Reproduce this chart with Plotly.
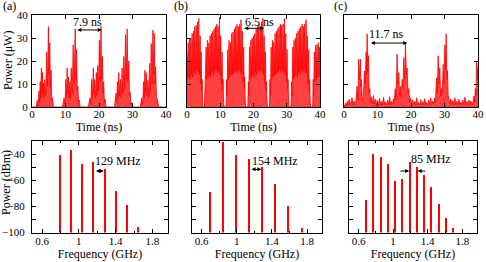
import plotly.graph_objects as go

# ---------------- data ----------------
# (a) time trace, 7.9 ns pulse period
time_a = [0, 1.2, 1.6, 1.85, 2.1, 2.25, 2.45, 2.6, 2.8, 2.95, 3.1, 3.25, 3.4, 3.6, 3.8, 4.1, 4.4, 4.65, 4.9, 5.1, 5.3, 5.5, 5.7, 5.9, 6.1, 6.4,
          9.1, 9.6, 9.85, 10.1, 10.3, 10.5, 10.7, 10.9, 11.1, 11.3, 11.5, 11.7, 12.0, 12.3, 12.6, 12.9, 13.1, 13.3, 13.5, 13.7, 13.9, 14.1, 14.4,
          16.8, 17.3, 17.55, 17.8, 18.05, 18.3, 18.5, 18.7, 18.95, 19.2, 19.4, 19.6, 19.85, 20.1, 20.35, 20.6, 20.8, 21.0, 21.2, 21.4, 21.6, 21.8, 22.1,
          24.6, 25.1, 25.3, 25.5, 25.7, 25.9, 26.15, 26.4, 26.65, 26.9, 27.15, 27.4, 27.65, 27.9, 28.15, 28.4, 28.65, 28.9, 29.1, 29.3, 29.5, 29.7, 30.0,
          32.3, 32.8, 33.05, 33.3, 33.5, 33.7, 33.9, 34.1, 34.35, 34.6, 34.85, 35.1, 35.35, 35.6, 35.85, 36.1, 36.3, 36.5, 36.7, 36.9, 37.15, 37.4, 37.8, 40]
power_a = [0, 0, 3, 0.5, 7, 2, 11, 4, 17, 6, 15, 5, 10.5, 4, 12, 5, 24, 9, 35, 14, 28, 9, 16, 3, 4, 0,
           0, 4, 1, 12, 4, 17, 6, 13, 4, 11, 4, 17, 6, 27, 10, 34, 12, 25, 7, 9, 2, 3, 0,
           0, 4, 1, 12, 4, 17, 6, 12, 4, 15, 5, 18, 7, 29, 11, 35, 12, 22, 6, 11, 2, 3.5, 0,
           0, 6, 2, 11, 4, 15, 5, 12, 4, 17, 6, 22, 8, 31.5, 12, 34, 11, 20, 5, 6.5, 1, 2, 0,
           0, 4, 1, 11, 4, 16, 6, 15, 5, 11.6, 4, 19, 7, 27.6, 10, 33.5, 14, 32, 10, 17.5, 4, 3.6, 0, 0]

# (b) time trace, 6.5 ns pulse period
time_b = [0.0, 0.15, 0.35, 0.55, 0.75, 0.95, 1.15, 1.35, 1.55, 1.75, 1.95, 2.15, 2.35, 2.55, 2.75, 2.95, 3.15, 3.35, 3.55, 3.75, 3.95, 4.1, 4.25, 4.4, 4.55, 4.7, 4.85,
          5.25, 5.4, 5.55, 5.75, 5.95, 6.15, 6.35, 6.55, 6.75, 6.95, 7.15, 7.35, 7.55, 7.75, 7.95, 8.15, 8.35, 8.55, 8.75, 8.95, 9.15, 9.35, 9.55, 9.75, 9.95, 10.15, 10.35, 10.55, 10.7, 10.85, 11.0, 11.15,
          11.75, 11.9, 12.05, 12.25, 12.45, 12.65, 12.85, 13.05, 13.25, 13.45, 13.65, 13.85, 14.05, 14.25, 14.45, 14.65, 14.85, 15.05, 15.25, 15.45, 15.65, 15.85, 16.05, 16.25, 16.45, 16.65, 16.85, 17.05, 17.2, 17.35, 17.5, 17.65,
          18.3, 18.45, 18.6, 18.8, 19.0, 19.2, 19.4, 19.6, 19.8, 20.0, 20.2, 20.4, 20.6, 20.8, 21.0, 21.2, 21.4, 21.6, 21.8, 22.0, 22.2, 22.4, 22.6, 22.8, 23.0, 23.2, 23.4, 23.6, 23.75, 23.9, 24.05, 24.2,
          24.8, 24.95, 25.1, 25.3, 25.5, 25.7, 25.9, 26.1, 26.3, 26.5, 26.7, 26.9, 27.1, 27.3, 27.5, 27.7, 27.9, 28.1, 28.3, 28.5, 28.7, 28.9, 29.1, 29.3, 29.5, 29.7, 29.9, 30.1, 30.25, 30.4, 30.55, 30.7,
          31.3, 31.45, 31.6, 31.8, 32.0, 32.2, 32.4, 32.6, 32.8, 33.0, 33.2, 33.4, 33.6, 33.8, 34.0, 34.2, 34.4, 34.6, 34.8, 35.0, 35.2, 35.4, 35.6, 35.8, 36.0, 36.2, 36.4, 36.6, 36.75, 36.9, 37.05, 37.2,
          37.8, 37.95, 38.1, 38.3, 38.5, 38.7, 38.9, 39.1, 39.3, 39.5, 39.7, 39.9, 40.0]
power_b = [24, 12, 28, 13, 30, 12, 30, 14, 32, 13, 33, 15, 35, 14, 35.5, 16, 37, 15, 38.5, 14, 31, 10, 24, 7, 12, 2, 0,
           0, 10, 5, 26, 12, 29, 13, 28, 14, 31, 13, 32, 15, 33, 14, 34, 16, 35, 15, 36, 16, 35, 15, 39, 14, 31, 10, 24, 7, 12, 2, 0,
           0, 12, 5, 25, 12, 29, 13, 28, 14, 32, 14, 32.6, 15, 34, 15, 35, 16, 36, 15, 35, 16, 36, 15, 38, 14, 33, 11, 26, 8, 13, 3, 0,
           0, 11, 5, 26, 12, 29, 13, 30, 14, 31, 13, 32, 15, 34, 14, 35, 16, 36, 15, 35, 16, 37, 15, 38.5, 14, 31, 10, 24, 7, 11, 3, 0,
           0, 12, 5, 26, 12, 29, 13, 28, 14, 32, 14, 33, 15, 34, 15, 35, 16, 36, 15, 35.5, 16, 36, 15, 38.5, 14, 32, 11, 25, 8, 12, 3, 0,
           0, 11, 5, 26, 12, 29, 13, 30, 14, 32, 13, 33, 15, 34, 14, 35, 16, 36, 15, 35, 16, 36, 15, 38, 14, 31, 10, 25, 7, 12, 2, 0,
           0, 12, 5, 24, 11, 27, 12, 27, 13, 28, 13, 26, 20]

# (c) time trace, 11.7 ns pulse period
time_c = [0.0, 0.3, 0.5, 0.8, 1.0, 1.3, 1.5, 1.8, 2.1, 2.4, 2.7, 3.0, 3.3, 3.6,
          3.9, 4.15, 4.4, 4.65, 4.9, 5.05, 5.2, 5.45, 5.7, 5.9, 6.1, 6.35, 6.6, 6.75, 6.9, 7.1, 7.3, 7.5, 7.7, 7.9,
          8.2, 8.5, 8.8, 9.1, 9.4, 9.7, 10.0, 10.3, 10.6, 10.9, 11.2, 11.5, 11.8, 12.1, 12.4, 12.7, 13.0, 13.3, 13.6, 13.9, 14.2, 14.5, 14.8,
          15.0, 15.3, 15.55, 15.85, 16.1, 16.35, 16.6, 16.85, 17.1, 17.35, 17.6, 17.85, 18.1, 18.35, 18.6, 18.85, 19.1, 19.35, 19.6,
          19.9, 20.2, 20.5, 20.8, 21.1, 21.4, 21.7, 22.0, 22.3, 22.6, 22.9, 23.2, 23.5, 23.8, 24.1, 24.4, 24.7, 25.0, 25.3, 25.6, 25.9, 26.2, 26.5, 26.8,
          27.05, 27.3, 27.6, 27.85, 28.1, 28.35, 28.6, 28.85, 29.1, 29.35, 29.6, 29.85, 30.1, 30.3, 30.5, 30.7, 30.9, 31.1, 31.3,
          31.6, 31.9, 32.2, 32.5, 32.8, 33.1, 33.4, 33.7, 34.0, 34.3, 34.6, 34.9, 35.2, 35.5, 35.8, 36.1, 36.4, 36.7, 37.0, 37.3, 37.6, 37.9, 38.2, 38.5,
          38.8, 39.0, 39.2, 39.4, 39.6, 39.8, 40.0]
power_c = [1, 0.4, 1.8, 0.6, 2.5, 0.8, 3.4, 1, 2.2, 4, 1, 2.6, 0.8, 3,
           9, 3, 20.8, 12, 20.8, 9, 12, 3, 4, 8, 15.7, 10, 24, 14, 31.8, 15, 22.4, 6, 8, 2,
           4.5, 1.5, 5, 1.2, 3.5, 0.8, 2.8, 1, 3.8, 0.8, 2.5, 1, 4.2, 1.2, 2.2, 0.6, 3, 1, 4.5, 1, 2.5, 1.2, 3.5,
           2, 8, 3, 23, 10, 15, 5, 9, 4, 12, 8, 21.5, 12, 27.8, 14, 17, 6, 8, 2,
           4, 1, 3, 0.8, 2.5, 1, 4, 1, 2, 0.6, 3.2, 1, 2.4, 0.8, 3.6, 1, 2, 0.8, 3, 1.2, 4, 1, 2.5, 1.5,
           4, 2, 12.7, 6, 22.3, 10, 17, 5, 8, 6, 18.6, 10, 27, 16, 31.8, 12, 15.8, 5, 4,
           1.5, 3.5, 1, 2.8, 0.8, 4, 1.2, 2.5, 0.6, 3.4, 1, 2.2, 0.8, 3, 1, 4.2, 1.2, 2.4, 0.8, 3, 1, 2.6, 1, 2,
           4.8, 2, 8, 5, 20, 12, 18]

assert len(time_a) == len(power_a)
assert len(time_b) == len(power_b)
assert len(time_c) == len(power_c)

# RF spectra (frequency in GHz, power in dBm)
freq_a = [0.793, 0.917, 1.038, 1.158, 1.285, 1.402, 1.522, 1.643]
level_a = [-40.5, -37, -47.5, -45.8, -51.3, -68.5, -78.6, -96]
freq_b = [0.695, 0.844, 0.99, 1.14, 1.29, 1.44, 1.59, 1.74]
level_b = [-69.3, -30.8, -40.8, -44, -49.7, -63, -80, -96.7]
freq_c = [0.692, 0.775, 0.859, 0.944, 1.024, 1.108, 1.192, 1.277, 1.36, 1.44, 1.528, 1.612, 1.696]
level_c = [-75.5, -40, -42, -47.7, -60.7, -59.1, -46.1, -49.7, -56, -65.5, -78.3, -89, -96.6]

time_ticks = [0, 10, 20, 30, 40]
power_ticks = [0, 10, 20, 30, 40]
freq_tickvals = [0.6, 1.0, 1.4, 1.8]
freq_ticktext = ["0.6", "1", "1.4", "1.8"]
dbm_ticks = [-100, -80, -60, -40]

# ---------------- layout ----------------
W, H = 486, 262
FONT = "Liberation Serif, Times New Roman, Times, DejaVu Serif, serif"
RED = "#ff0000"


def fx(p):
    return p / W


def fy(p):
    return 1 - p / H


top_x = [(32, 166), (187, 320), (344, 478)]
bot_x = [(32, 168), (192, 322), (349, 477)]
top_y = (15, 107)
bot_y = (141, 232.5)

fig = go.Figure()

for i, (t, p) in enumerate([(time_a, power_a), (time_b, power_b), (time_c, power_c)]):
    n = i + 1
    fig.add_trace(go.Scatter(x=t, y=p, mode="lines", line=dict(color=RED, width=0.8),
                             fill="tozeroy", fillcolor="rgba(255,0,0,0.75)",
                             xaxis=f"x{n}", yaxis=f"y{n}", showlegend=False, hoverinfo="skip"))

for i, (f, l) in enumerate([(freq_a, level_a), (freq_b, level_b), (freq_c, level_c)]):
    n = i + 4
    fig.add_trace(go.Bar(x=f, y=[v + 100 for v in l], base=-100, width=0.016,
                         marker=dict(color=RED, line=dict(width=0)),
                         xaxis=f"x{n}", yaxis=f"y{n}", showlegend=False, hoverinfo="skip"))

axis_common = dict(showline=True, linecolor="black", linewidth=1, mirror="ticks",
                   ticks="inside", ticklen=4, tickcolor="black", showgrid=False, zeroline=False,
                   tickfont=dict(family=FONT, size=11, color="black"), automargin=False)

layout = dict(width=W, height=H, margin=dict(l=0, r=0, t=0, b=0),
              paper_bgcolor="white", plot_bgcolor="white", bargap=0,
              font=dict(family=FONT, size=12, color="black"))

for i in range(3):
    n = i + 1
    layout[f"xaxis{n}"] = dict(axis_common, domain=[fx(top_x[i][0]), fx(top_x[i][1])], range=[0, 40],
                               tickvals=time_ticks, anchor=f"y{n}", ticklabelstandoff=-3,
                               title=dict(text="Time (ns)", standoff=0, font=dict(family=FONT, size=12)))
    layout[f"yaxis{n}"] = dict(axis_common, domain=[fy(top_y[1]), fy(top_y[0])], range=[0, 40],
                               tickvals=power_ticks, anchor=f"x{n}", showticklabels=(i == 0),
                               ticklabelstandoff=1)
    m = i + 4
    layout[f"xaxis{m}"] = dict(axis_common, domain=[fx(bot_x[i][0]), fx(bot_x[i][1])], range=[0.49, 1.97],
                               tickvals=freq_tickvals, ticktext=freq_ticktext, anchor=f"y{m}", ticklabelstandoff=-2,
                               minor=dict(tickvals=[0.8, 1.2, 1.6], ticks="inside", ticklen=2, tickcolor="black"),
                               title=dict(text="Frequency (GHz)", standoff=0, font=dict(family=FONT, size=12)))
    layout[f"yaxis{m}"] = dict(axis_common, domain=[fy(bot_y[1]), fy(bot_y[0])], range=[-100, -30],
                               tickvals=dbm_ticks, anchor=f"x{m}", showticklabels=(i == 0),
                               minor=dict(tickvals=[-90, -70, -50, -30], ticks="inside", ticklen=4, tickcolor="black"),
                               ticklabelstandoff=4)

fig.update_layout(**layout)

ann = []
# panel letters
for txt, xp in [("(a)", 1), ("(b)", 172), ("(c)", 332)]:
    ann.append(dict(text=txt, x=fx(xp), y=fy(6), xref="paper", yref="paper", xanchor="left", yanchor="middle",
                    showarrow=False, font=dict(family=FONT, size=12)))
# y-axis titles
ann.append(dict(text="Power (μW)", x=fx(8), y=fy(61), xref="paper", yref="paper", textangle=-90,
                xanchor="center", yanchor="middle", showarrow=False, font=dict(family=FONT, size=12)))
ann.append(dict(text="Power (dBm)", x=fx(6), y=fy(183), xref="paper", yref="paper", textangle=-90,
                xanchor="center", yanchor="middle", showarrow=False, font=dict(family=FONT, size=12)))


def dbl_arrow(xa, ya, x0, x1, y):
    return dict(x=x1, y=y, ax=x0, ay=y, xref=xa, yref=ya, axref=xa, ayref=ya, text="", showarrow=True,
                arrowhead=2, arrowside="end+start", arrowsize=0.8, arrowwidth=1, arrowcolor="black",
                standoff=0, startstandoff=0)


def one_arrow(xa, ya, x0, x1, y):
    return dict(x=x1, y=y, ax=x0, ay=y, xref=xa, yref=ya, axref=xa, ayref=ya, text="", showarrow=True,
                arrowhead=2, arrowsize=0.8, arrowwidth=1, arrowcolor="black", standoff=0)


def label(xa, ya, x, y, txt):
    return dict(x=x, y=y, xref=xa, yref=ya, text=txt, showarrow=False, xanchor="center", yanchor="middle",
                font=dict(family=FONT, size=12))


ann += [dbl_arrow("x", "y", 13.1, 20.8, 33.5), label("x", "y", 16.6, 37, "7.9 ns"),
        dbl_arrow("x2", "y2", 16.8, 23.2, 34.2), label("x2", "y2", 21.7, 37, "6.5 ns"),
        dbl_arrow("x3", "y3", 7.6, 18.9, 27.8), label("x3", "y3", 12.7, 31.6, "11.7 ns"),
        dbl_arrow("x4", "y4", 1.17, 1.27, -53), label("x4", "y4", 1.43, -45, "129 MHz"),
        dbl_arrow("x5", "y5", 1.15, 1.28, -51.7), label("x5", "y5", 1.43, -45.4, "154 MHz"),
        one_arrow("x6", "y6", 1.066, 1.185, -53), one_arrow("x6", "y6", 1.39, 1.284, -53),
        label("x6", "y6", 1.44, -43.8, "85 MHz")]

fig.update_layout(annotations=ann)
fig.write_html("out.html", config={"displayModeBar": False},
               post_script="document.body.style.margin='0px';document.body.style.padding='0px';")
